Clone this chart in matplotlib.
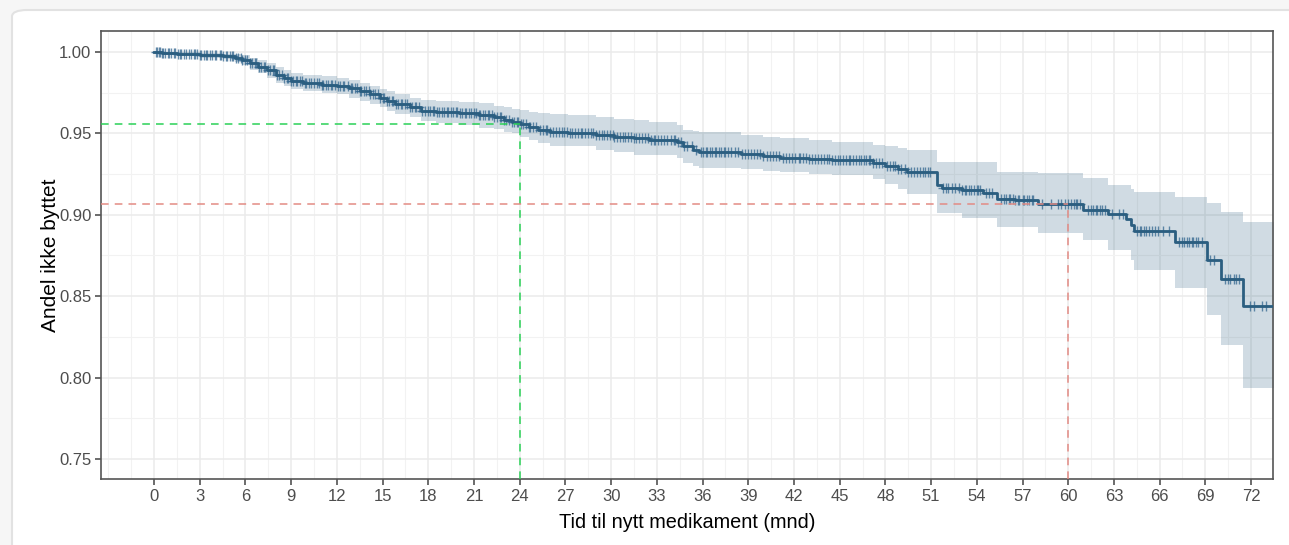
import numpy as np
import matplotlib
matplotlib.use("Agg")
import matplotlib.pyplot as plt
from matplotlib.patches import FancyBboxPatch

plt.rcParams['font.family'] = ['Liberation Sans', 'DejaVu Sans']

# Kaplan-Meier estimate: step times (months), survival and 95% CI after each step
km_time = [0, 0.5, 1.5, 3.0, 4.5, 5.3, 5.8, 6.3, 6.8, 7.4, 8.0, 8.5, 9.0, 9.8,
           11.0, 12.0, 12.8, 13.5, 14.2, 14.8, 15.3, 15.8, 16.8, 17.5, 18.5,
           20.0, 21.3, 22.3, 23.0, 23.5, 24.0, 24.6, 25.2, 26.0, 27.2, 29.0,
           30.2, 31.5, 32.5, 34.3, 34.7, 35.4, 35.8, 38.5, 40.0, 41.1, 43.0,
           44.5, 47.2, 48.0, 48.8, 49.4, 51.4, 51.7, 53.0, 54.4, 55.3, 56.5,
           58.0, 61.0, 62.6, 63.8, 64.1, 64.3, 67.0, 69.1, 70.0, 71.5, 74.0]
km_surv = [1.000, 0.9995, 0.999, 0.998, 0.9975, 0.9965, 0.995, 0.993, 0.991,
           0.989, 0.986, 0.984, 0.982, 0.981, 0.980, 0.979, 0.978, 0.976,
           0.974, 0.972, 0.970, 0.968, 0.966, 0.964, 0.963, 0.9625, 0.9615,
           0.960, 0.9585, 0.957, 0.9555, 0.954, 0.952, 0.951, 0.950, 0.9488,
           0.948, 0.947, 0.946, 0.9445, 0.942, 0.940, 0.9388, 0.9375, 0.936,
           0.935, 0.9343, 0.9335, 0.932, 0.930, 0.928, 0.926, 0.9185, 0.9166,
           0.9155, 0.9135, 0.910, 0.909, 0.9068, 0.903, 0.9006, 0.8975, 0.894,
           0.890, 0.8834, 0.8724, 0.8607, 0.8442, 0.8442]
km_upper = [1.000, 1.000, 1.000, 0.9995, 0.999, 0.999, 0.998, 0.9965, 0.995,
            0.993, 0.991, 0.989, 0.987, 0.986, 0.985, 0.984, 0.983, 0.981,
            0.979, 0.977, 0.976, 0.974, 0.972, 0.9705, 0.970, 0.9695, 0.9685,
            0.967, 0.966, 0.965, 0.9644, 0.963, 0.9625, 0.962, 0.9613, 0.960,
            0.959, 0.958, 0.957, 0.955, 0.952, 0.9515, 0.951, 0.949, 0.948,
            0.947, 0.946, 0.945, 0.943, 0.942, 0.941, 0.940, 0.9325, 0.9325,
            0.9325, 0.9325, 0.9264, 0.9264, 0.9258, 0.9227, 0.9184, 0.9184,
            0.916, 0.9141, 0.911, 0.9074, 0.9018, 0.8957, 0.8957]
km_lower = [0.999, 0.9985, 0.998, 0.9965, 0.996, 0.994, 0.992, 0.989, 0.987,
            0.984, 0.981, 0.979, 0.977, 0.976, 0.975, 0.974, 0.972, 0.970,
            0.968, 0.966, 0.964, 0.962, 0.960, 0.9575, 0.9565, 0.955, 0.9535,
            0.9525, 0.951, 0.950, 0.948, 0.946, 0.944, 0.9425, 0.942, 0.940,
            0.9385, 0.937, 0.9365, 0.935, 0.932, 0.930, 0.929, 0.928, 0.927,
            0.926, 0.925, 0.9245, 0.922, 0.919, 0.916, 0.913, 0.9012, 0.9012,
            0.8982, 0.8982, 0.8926, 0.8926, 0.889, 0.8847, 0.8785, 0.8785,
            0.872, 0.8663, 0.8552, 0.8387, 0.8202, 0.7939, 0.7939]

# Censored observations (months)
censor_time = [
    0.1, 0.2, 0.3, 0.4, 0.5, 0.6, 0.7, 0.9, 1.0, 1.1, 1.3, 1.4, 1.6, 1.7, 1.8,
    2.0, 2.1, 2.3, 2.4, 2.6, 2.7, 2.8, 3.0, 3.1, 3.3, 3.4, 3.5, 3.7, 3.8, 4.0,
    4.1, 4.3, 4.4, 4.5, 4.7, 4.8, 5.0, 5.1, 5.2, 5.4, 5.5, 5.7, 5.8, 6.0,
    6.1, 6.3, 6.4, 6.6, 6.7, 6.9, 7.0, 7.2, 7.3, 7.5, 7.6, 7.8, 7.9, 8.1, 8.2,
    8.4, 8.5, 8.7, 8.8, 9.0, 9.1, 9.3, 9.4, 9.6, 9.7, 9.9, 10.0, 10.2, 10.3,
    10.5, 10.7, 10.8, 11.0, 11.1, 11.3, 11.4, 11.6, 11.7, 11.9,
    12.1, 12.2, 12.4, 12.5, 12.7, 12.9, 13.0, 13.2, 13.3, 13.5, 13.6, 13.8,
    13.9, 14.1, 14.2, 14.4, 14.5, 14.7, 14.8, 15.0, 15.1, 15.3, 15.4, 15.6,
    15.7, 15.9, 16.0, 16.2, 16.3, 16.5, 16.6, 16.8, 16.9, 17.1, 17.2, 17.4,
    17.6, 17.8,
    18.0, 18.1, 18.3, 18.4, 18.6, 18.7, 18.9, 19.0, 19.2, 19.3, 19.5, 19.6,
    19.8, 19.9, 20.1, 20.2, 20.4, 20.5, 20.7, 20.8, 21.0, 21.1, 21.3, 21.4,
    21.6, 21.7, 21.9, 22.0, 22.2, 22.3, 22.5, 22.7, 22.8, 23.0, 23.1, 23.3,
    23.5, 23.6, 23.8, 23.9,
    24.1, 24.2, 24.4, 24.6, 24.7, 24.9, 25.1, 25.3, 25.5, 25.7, 25.8, 26.0,
    26.2, 26.4, 26.6, 26.8, 26.9, 27.1, 27.3, 27.4, 27.6, 27.8, 28.0, 28.1,
    28.3, 28.5, 28.7, 28.8, 29.0, 29.2, 29.4, 29.5, 29.7, 29.9,
    30.1, 30.2, 30.4, 30.6, 30.8, 30.9, 31.1, 31.3, 31.5, 31.6, 31.8, 32.0,
    32.2, 32.4, 32.6, 32.8, 32.9, 33.1, 33.3, 33.5, 33.7, 33.9, 34.1, 34.2,
    34.4, 34.6, 34.8, 35.0, 35.3, 35.6, 35.9,
    36.0, 36.2, 36.3, 36.5, 36.6, 36.8, 36.9, 37.1, 37.2, 37.4, 37.5, 37.7,
    37.9, 38.1, 38.3, 38.6, 38.8, 39.0, 39.2, 39.4, 39.6, 39.8, 40.0, 40.2,
    40.4, 40.6, 40.8, 41.0, 41.3, 41.5, 41.7, 41.9,
    42.1, 42.3, 42.4, 42.6, 42.8, 43.0, 43.2, 43.4, 43.6, 43.8, 44.0, 44.2,
    44.3, 44.5, 44.7, 44.9, 45.0, 45.2, 45.4, 45.6, 45.7, 45.9, 46.1, 46.3,
    46.4, 46.6, 46.7, 46.9, 47.0, 47.2, 47.4, 47.6, 47.8,
    48.1, 48.3, 48.5, 48.6, 48.8, 49.0, 49.3, 49.5, 49.7, 49.9, 50.1, 50.3,
    50.5, 50.6, 50.8, 50.9,
    51.8, 52.0, 52.1, 52.4, 52.6, 52.8, 53.0, 53.2, 53.3, 53.5, 53.6, 53.8,
    54.0, 54.1, 54.2,
    54.6, 54.8, 55.0, 55.6, 55.8, 55.9, 56.1, 56.2, 56.4, 56.5, 56.7, 56.8,
    57.0, 57.1, 57.3, 57.4, 57.6, 57.7,
    58.3, 58.9, 59.3, 59.5, 59.8, 60.0, 60.2, 60.4, 60.5, 60.6, 60.8,
    61.3, 61.5, 61.6, 61.8, 61.9, 62.1, 62.2, 62.4, 62.9, 63.3, 63.6,
    64.5, 64.7, 64.8, 65.0, 65.1, 65.3, 65.5, 65.7, 65.9, 66.2, 66.6,
    67.3, 67.5, 67.6, 67.8, 67.9, 68.1, 68.2, 68.4, 68.5, 68.8,
    69.3, 69.6,
    70.3, 70.5, 70.6, 70.9, 71.0, 71.2,
    71.9, 72.2, 72.7, 73.0,
]

# Reference points: (months, proportion still on first drug, colour)
ref_points = [(24, 0.9555, '#2bd157'), (60, 0.9065, '#e38b84')]

x_ticks = list(range(0, 73, 3))
y_ticks = [0.75, 0.80, 0.85, 0.90, 0.95, 1.00]

line_col = '#2b5e80'

W, H = 1289, 545
fig = plt.figure(figsize=(W / 100, H / 100), dpi=100)
fig.patch.set_facecolor('#f6f6f6')

# White card behind the plot
card = FancyBboxPatch((12 / W, -0.05), 1.2, (H - 10) / H + 0.05,
                      boxstyle='round,pad=0,rounding_size=0.012',
                      transform=fig.transFigure, facecolor='white',
                      edgecolor='#e2e2e2', linewidth=1.5, zorder=-10)
fig.patches.append(card)

ax = fig.add_axes([101 / W, (H - 479) / H, (1273 - 101) / W, (479 - 31) / H])
ax.set_zorder(1)
ax.set_facecolor('white')

xmin, xmax = -3.48, 73.44
ymin, ymax = 0.7377, 1.0129
ax.set_xlim(xmin, xmax)
ax.set_ylim(ymin, ymax)

# Grid
ax.set_xticks(x_ticks)
ax.set_yticks(y_ticks)
ax.set_xticks([-3, -1.5] + [t + 1.5 for t in x_ticks[:-1]], minor=True)
ax.set_yticks([0.775, 0.825, 0.875, 0.925, 0.975], minor=True)
ax.grid(which='major', color='#ebebeb', linewidth=1.1, zorder=0)
ax.grid(which='minor', color='#f2f2f2', linewidth=0.8, zorder=0)
ax.set_axisbelow(True)

# Confidence band and survival curve
ax.fill_between(km_time, km_lower, km_upper, step='post', color=line_col,
                alpha=0.22, linewidth=0, zorder=2)
ax.step(km_time, km_surv, where='post', color=line_col, linewidth=2.0, zorder=4)

# Censoring marks sit on the curve
c_idx = np.searchsorted(km_time, censor_time, side='right') - 1
ax.plot(censor_time, np.array(km_surv)[c_idx], linestyle='none', marker='+',
        markersize=7, markeredgewidth=1.0, color='#33668f', alpha=0.75, zorder=3)

# Dashed guides at the reference times
for t, s, col in ref_points:
    ax.plot([xmin, t], [s, s], linestyle=(0, (5, 4)), color=col, linewidth=1.1, zorder=5)
    ax.plot([t, t], [ymin, s], linestyle=(0, (5, 4)), color=col, linewidth=1.1, zorder=5)

# Axes styling
for sp in ax.spines.values():
    sp.set_color('#555555')
    sp.set_linewidth(1.2)
ax.tick_params(which='major', length=4, width=1.1, color='#444444',
               labelcolor='#4d4d4d', labelsize=12, pad=3)
ax.tick_params(which='minor', length=0)
ax.set_yticklabels([f'{v:.2f}' for v in y_ticks])
ax.set_xticklabels([str(v) for v in x_ticks])

ax.set_xlabel('Tid til nytt medikament (mnd)', fontsize=14.3, color='black', labelpad=7)
ax.set_ylabel('Andel ikke byttet', fontsize=15, color='black', labelpad=-0.5)

fig.savefig('out.png', dpi=100, facecolor=fig.get_facecolor())
